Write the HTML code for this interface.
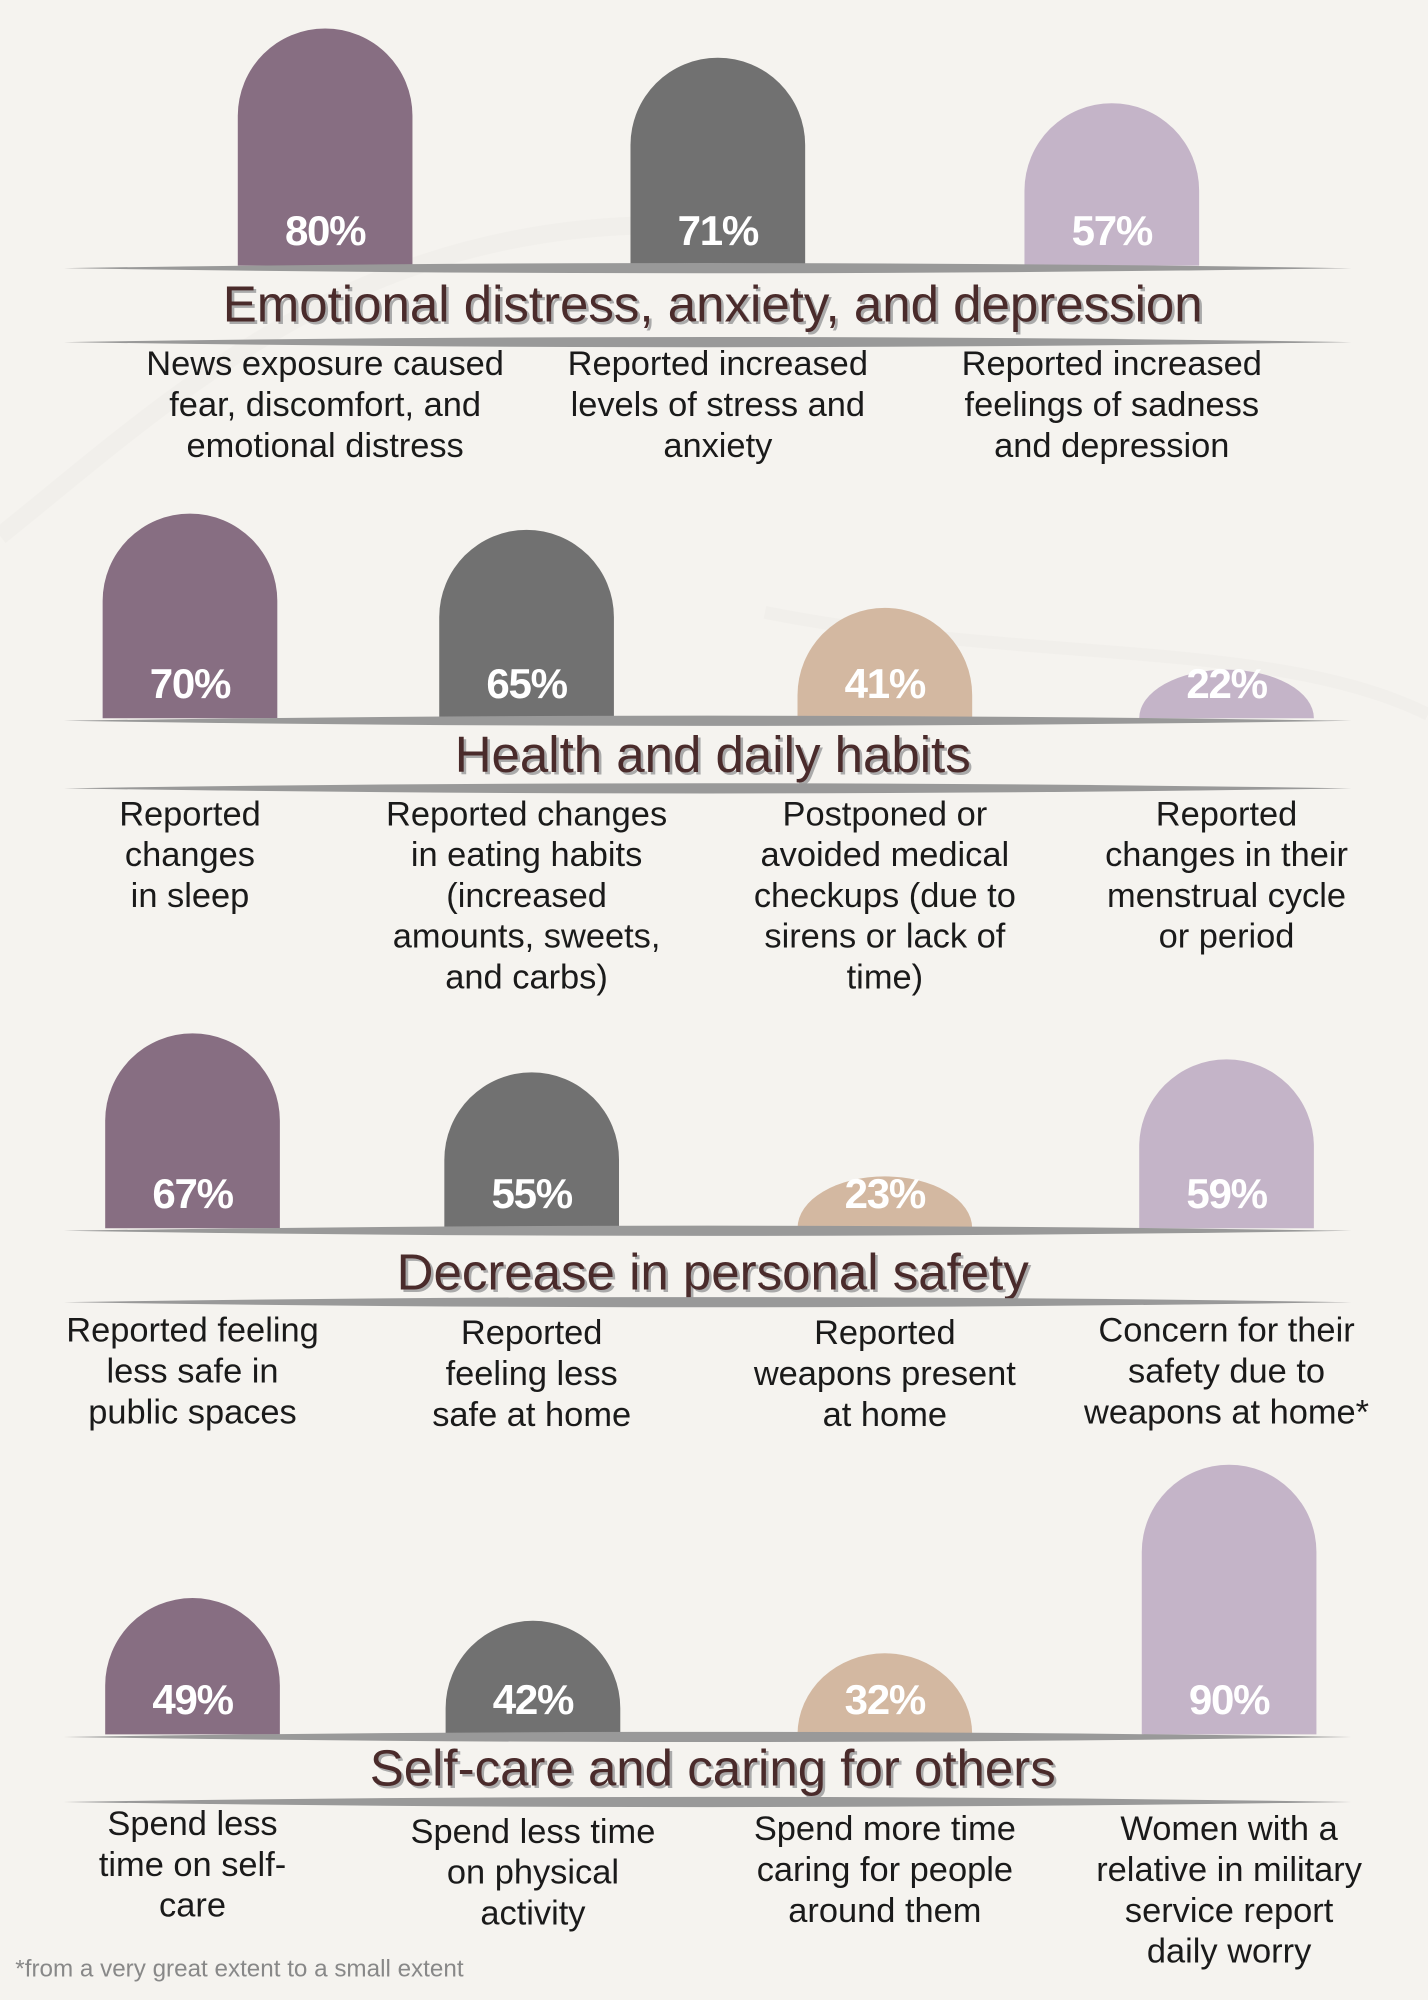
<!DOCTYPE html>
<html><head><meta charset="utf-8"><style>
html,body{margin:0;padding:0;background:#f5f3ef}
svg{display:block}
text{font-family:"Liberation Sans Narrow","Liberation Sans",sans-serif}
</style></head><body>
<svg id="chart" width="1428" height="2000" viewBox="0 0 1120 1568" xmlns="http://www.w3.org/2000/svg">
<rect width="1120" height="1568" fill="#f5f3ef"/>
<path d="M0 420 C150 300 300 150 600 180" stroke="#eeebe7" stroke-width="14" fill="none" opacity="0.5"/>
<path d="M600 480 C800 520 1000 500 1120 560" stroke="#eeebe7" stroke-width="10" fill="none" opacity="0.5"/>
<g id="root"></g>
</svg>
<script>
const sectionTitles = ["Emotional distress, anxiety, and depression","Health and daily habits","Decrease in personal safety","Self-care and caring for others"];
const sec1Values = [80,71,57];
const sec2Values = [70,65,41,22];
const sec3Values = [67,55,23,59];
const sec4Values = [49,42,32,90];
const sec1Labels = [["News exposure caused","fear, discomfort, and","emotional distress"],["Reported increased","levels of stress and","anxiety"],["Reported increased","feelings of sadness","and depression"]];
const sec2Labels = [["Reported","changes","in sleep"],["Reported changes","in eating habits","(increased","amounts, sweets,","and carbs)"],["Postponed or","avoided medical","checkups (due to","sirens or lack of","time)"],["Reported","changes in their","menstrual cycle","or period"]];
const sec3Labels = [["Reported feeling","less safe in","public spaces"],["Reported","feeling less","safe at home"],["Reported","weapons present","at home"],["Concern for their","safety due to","weapons at home*"]];
const sec4Labels = [["Spend less","time on self-","care"],["Spend less time","on physical","activity"],["Spend more time","caring for people","around them"],["Women with a","relative in military","service report","daily worry"]];
const sec1Colors = ["#876e82","#717171","#c4b4c8"];
const sec4Colors = ["#876e82","#717171","#d3b8a1","#c4b4c8"];

const NS="http://www.w3.org/2000/svg";
const root=document.getElementById('root');
function mk(tag,attrs,parent){const e=document.createElementNS(NS,tag);for(const k in attrs)e.setAttribute(k,attrs[k]);(parent||root).appendChild(e);return e;}
function barH(v){return Math.max(20,2.55*v-18);}

const sections=[
 {vals:sec1Values,labels:sec1Labels,colors:sec1Colors,xs:[255,563,872],base:208,line2:268,title:238,lab:[285,285,285]},
 {vals:sec2Values,labels:sec2Labels,colors:sec4Colors,xs:[149,413,694,962],base:563,line2:618,title:591,lab:[638,638,638,638]},
 {vals:sec3Values,labels:sec3Labels,colors:sec4Colors,xs:[151,417,694,962],base:963,line2:1021,title:997,lab:[1043,1045,1045,1043]},
 {vals:sec4Values,labels:sec4Labels,colors:sec4Colors,xs:[151,418,694,964],base:1360,line2:1413,title:1386,lab:[1430,1436,1434,1434]}
];
function lens(y){
 const p=mk('path',{d:`M50 ${y} Q555 ${y-8} 1060 ${y} Q555 ${y+8} 50 ${y} Z`,fill:'#999'});
 
 
}
sections.forEach((s,si)=>{
 const g=mk('g',{});
 
 
 s.vals.forEach((v,i)=>{
  const h=barH(v), w=137, r=w/2, x=s.xs[i]-r, y=s.base-h;
  let d;
  if(h>r){d=`M${x} ${s.base} L${x} ${y+r} A${r} ${r} 0 0 1 ${x+w} ${y+r} L${x+w} ${s.base} Z`;}
  else{d=`M${x} ${s.base} A${r} ${h} 0 0 1 ${x+w} ${s.base} Z`;}
  const b=mk('path',{d:d,fill:s.colors[i]},g);
  
  
  const t=mk('text',{x:s.xs[i],y:s.base-16,'text-anchor':'middle','font-size':33,'font-weight':'bold',fill:'#fff','letter-spacing':'-1'},g);
  t.textContent=v+'%';
  
  
  s.labels[i].forEach((ln,li)=>{
   const l=mk('text',{x:s.xs[i],y:s.lab[i]+9+li*32,'text-anchor':'middle','font-size':27,fill:'#1a1a1a'},g);
   l.textContent=ln;
   
   
  });
 });
 lens(s.base+2); lens(s.line2);
 const sh=mk('text',{x:561,y:s.title+16,'text-anchor':'middle','font-size':40,fill:'#aaa'},g);
 sh.textContent=sectionTitles[si];
 
 
 const tt=mk('text',{x:559,y:s.title+14,'text-anchor':'middle','font-size':40,fill:'#4a2b2b'},g);
 tt.textContent=sectionTitles[si];
 
 
});
const fn=mk('text',{x:12,y:1550,'font-size':19,fill:'#888'});
fn.textContent='*from a very great extent to a small extent';


</script>
</body></html>
